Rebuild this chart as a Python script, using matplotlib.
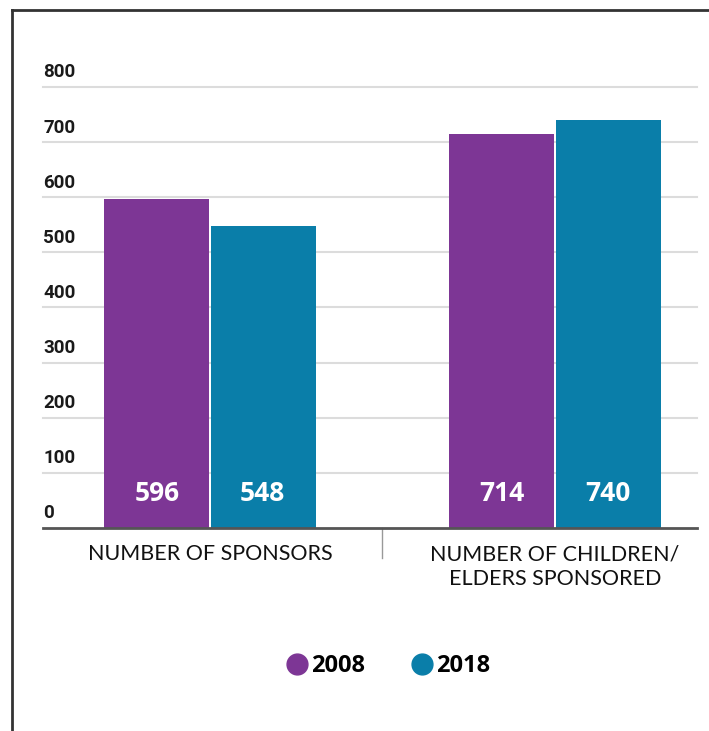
import numpy as np
import matplotlib.pyplot as plt
from matplotlib.lines import Line2D
from matplotlib.transforms import blended_transform_factory

# chart data
categories = ["NUMBER OF SPONSORS", "NUMBER OF CHILDREN/\nELDERS SPONSORED"]
years = ["2008", "2018"]
values_2008 = [596, 714]
values_2018 = [548, 740]
yticks = [0, 100, 200, 300, 400, 500, 600, 700, 800]

purple = "#7d3695"
teal = "#0a7ea9"

fig = plt.figure(figsize=(7.09, 7.31), dpi=100)
ax = fig.add_axes([0.0607, 0.2777, 0.9223, 0.6033])

x = np.arange(len(categories))
w = 0.305
ax.bar(x - w / 2 - 0.003, values_2008, width=w, color=purple, zorder=3)
ax.bar(x + w / 2 + 0.003, values_2018, width=w, color=teal, zorder=3)

# value labels inside the bars, near the bottom
for xi, v in zip(x - w / 2, values_2008):
    ax.text(xi, 62, str(v), ha="center", va="center", color="white",
            fontsize=19, fontweight="bold", family="Open Sans", zorder=4)
for xi, v in zip(x + w / 2, values_2018):
    ax.text(xi, 62, str(v), ha="center", va="center", color="white",
            fontsize=19, fontweight="bold", family="Open Sans", zorder=4)

ax.set_xlim(-0.484, 1.412)
ax.set_ylim(0, 800)

# grid lines with labels sitting above them on the left
for t in yticks[1:]:
    ax.axhline(t, color="#dcdcdc", lw=1.5, zorder=1, clip_on=False)
for t in yticks:
    ax.annotate(str(t), xy=(0, t), xycoords=("axes fraction", "data"),
                xytext=(0, 4), textcoords="offset points",
                ha="left", va="bottom", fontsize=13.5, fontweight="bold",
                family="Roboto", color="#1a1a1a")
ax.axhline(0, color="#555555", lw=2, zorder=5, clip_on=False)

ax.set_xticks([])
ax.set_yticks([])
for s in ax.spines.values():
    s.set_visible(False)

# category labels and the divider between them
trans = blended_transform_factory(ax.transData, ax.transAxes)
ax.plot([0.5, 0.5], [0, -0.068], color="#999999", lw=1,
        transform=trans, clip_on=False)
for xi, c in zip(x, categories):
    ax.text(xi, -0.037, c, transform=trans, ha="center", va="top",
            fontsize=15.5, family="Lato", color="#111111", linespacing=1.3)

# legend
handles = [Line2D([], [], marker="o", ls="", markersize=15,
                  markerfacecolor=col, markeredgecolor=col)
           for col in (purple, teal)]
fig.legend(handles, years, loc="center", bbox_to_anchor=(0.538, 0.089),
           ncol=2, frameon=False, handletextpad=-0.4, columnspacing=1.4,
           prop={"family": "Open Sans", "weight": "bold", "size": 17})

# frame on the left and top edges
fig.add_artist(Line2D([0.017, 0.017], [0, 0.986], color="#333333", lw=2))
fig.add_artist(Line2D([0.017, 1.0], [0.986, 0.986], color="#333333", lw=2))

fig.savefig("out.png", dpi=100)
